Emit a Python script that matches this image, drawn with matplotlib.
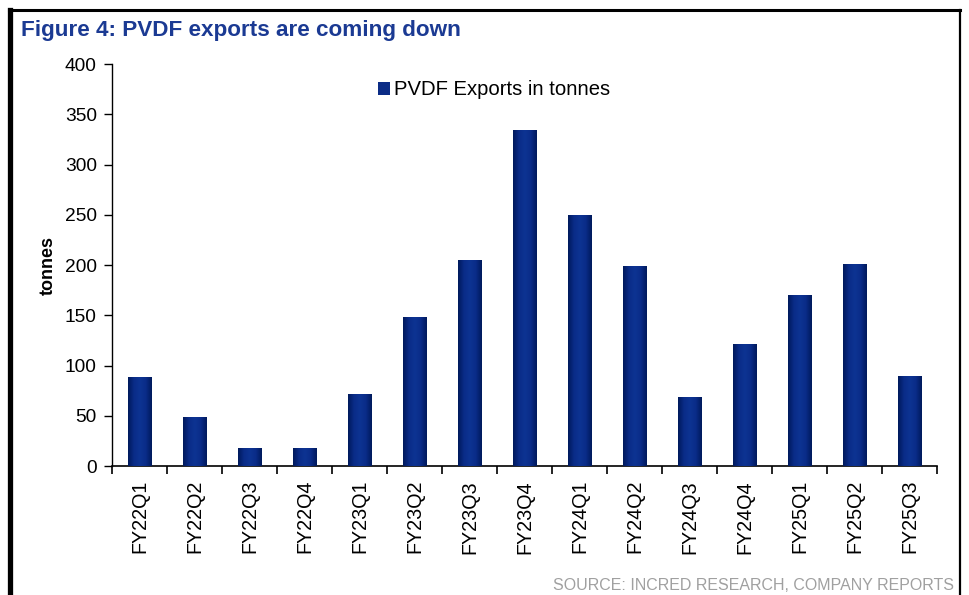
import numpy as np
import matplotlib
matplotlib.use("Agg")
import matplotlib.pyplot as plt
from matplotlib.colors import LinearSegmentedColormap
from matplotlib.lines import Line2D

plt.rcParams['font.family'] = ['Liberation Sans', 'DejaVu Sans']

quarters = ["FY22Q1", "FY22Q2", "FY22Q3", "FY22Q4", "FY23Q1", "FY23Q2", "FY23Q3",
            "FY23Q4", "FY24Q1", "FY24Q2", "FY24Q3", "FY24Q4", "FY25Q1", "FY25Q2", "FY25Q3"]
exports = [89, 49, 18, 18, 72, 148, 205, 334, 250, 199, 69, 121, 170, 201, 90]

title = "Figure 4: PVDF exports are coming down"
source = "SOURCE: INCRED RESEARCH, COMPANY REPORTS"

fig = plt.figure(figsize=(9.69, 5.95), dpi=100)
ax = fig.add_axes([0.1156, 0.2168, 0.8514, 0.6756])

x = np.arange(len(quarters))
bars = ax.bar(x, exports, width=0.42, color="#0B2C86", label="PVDF Exports in tonnes", zorder=2)

# shaded look across each bar: dark edges, lighter middle
shade = LinearSegmentedColormap.from_list(
    "barshade", ["#001A5C", "#0A2C88", "#0D3392", "#0A2C88", "#001A5C"])
grad = np.linspace(0, 1, 64).reshape(1, -1)
for b in bars:
    x0, y0 = b.get_x(), b.get_y()
    im = ax.imshow(grad, cmap=shade, aspect="auto", zorder=3,
                   extent=(x0, x0 + b.get_width(), y0, y0 + b.get_height()))
    im.set_clip_path(b)

ax.set_xlim(-0.5, len(quarters) - 0.5)
ax.set_ylim(0, 400)
ax.set_yticks(range(0, 401, 50))
ax.set_xticks(x)
ax.set_xticklabels(quarters, rotation=90)
ax.set_xticks(np.arange(-0.5, len(quarters)), minor=True)
ax.tick_params(axis="x", which="major", length=0, pad=10, labelsize=14.2)
ax.tick_params(axis="x", which="minor", length=6, width=1.2, direction="out")
ax.tick_params(axis="y", length=6, width=1, direction="out", labelsize=13.8, pad=5)

for side in ("top", "right"):
    ax.spines[side].set_visible(False)
ax.spines["left"].set_linewidth(1)
ax.spines["bottom"].set_linewidth(1.2)

ax.set_ylabel("tonnes", fontsize=13, fontweight="bold", labelpad=6)

leg = ax.legend(loc="upper center", bbox_to_anchor=(0.463, 1.005), frameon=False,
                fontsize=14.6, handlelength=0.6, handleheight=0.6, handletextpad=0.2)

fig.text(0.022, 0.948, title, color="#1B3A93", fontsize=16.2, fontweight="bold", va="center")
fig.text(0.985, 0.004, source, color="#A0A0A0", fontsize=11.5, ha="right", va="bottom")

# frame around the exhibit
fig.add_artist(Line2D([0.009, 0.991], [0.983, 0.983], color="black", lw=2.2))
fig.add_artist(Line2D([0.0108, 0.0108], [0.0, 0.983], color="black", lw=3.8))
fig.add_artist(Line2D([0.991, 0.991], [0.0, 0.983], color="black", lw=1.6))

fig.savefig("out.png", dpi=100)
